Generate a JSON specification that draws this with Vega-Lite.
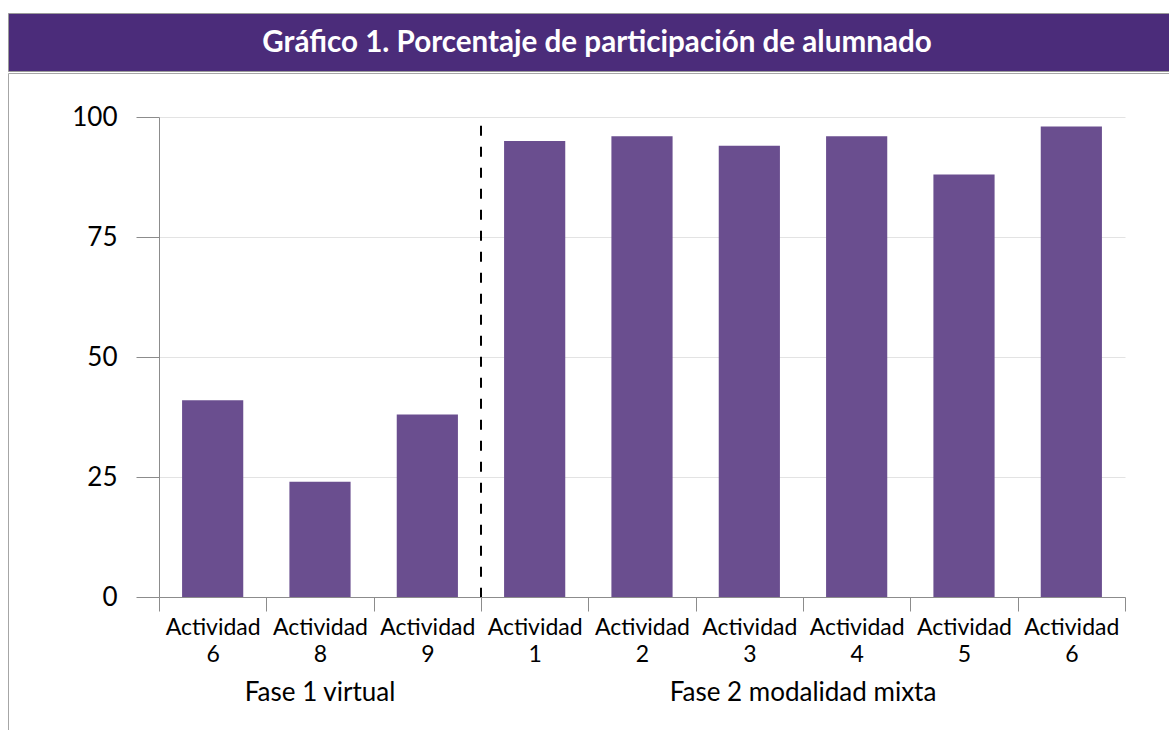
{
  "$schema": "https://vega.github.io/schema/vega-lite/v6.json",
  "padding": {"left": 7, "top": 12, "right": -9, "bottom": -9},
  "background": "white",
  "spacing": 0,
  "config": {"font": "Lato"},
  "vconcat": [
    {
      "width": 1170,
      "height": 58,
      "view": {"fill": "#4B2C7A", "stroke": "#9a9a9a"},
      "data": {"values": [{"titulo": "Gráfico 1. Porcentaje de participación de alumnado"}]},
      "mark": {"type": "text", "color": "white", "font": "Lato", "fontWeight": "bold", "fontSize": 29.6, "dx": 4, "dy": 1, "baseline": "middle", "align": "center"},
      "encoding": {"text": {"field": "titulo"}}
    },
    {
      "width": 1170,
      "height": 665,
      "view": {"stroke": "#a6a6a6"},
      "data": {
        "values": [
          {"clave": "1-6", "fase": "Fase 1 virtual", "actividad": "Actividad 6", "porcentaje": 41},
          {"clave": "1-8", "fase": "Fase 1 virtual", "actividad": "Actividad 8", "porcentaje": 24},
          {"clave": "1-9", "fase": "Fase 1 virtual", "actividad": "Actividad 9", "porcentaje": 38},
          {"clave": "2-1", "fase": "Fase 2 modalidad mixta", "actividad": "Actividad 1", "porcentaje": 95},
          {"clave": "2-2", "fase": "Fase 2 modalidad mixta", "actividad": "Actividad 2", "porcentaje": 96},
          {"clave": "2-3", "fase": "Fase 2 modalidad mixta", "actividad": "Actividad 3", "porcentaje": 94},
          {"clave": "2-4", "fase": "Fase 2 modalidad mixta", "actividad": "Actividad 4", "porcentaje": 96},
          {"clave": "2-5", "fase": "Fase 2 modalidad mixta", "actividad": "Actividad 5", "porcentaje": 88},
          {"clave": "2-6", "fase": "Fase 2 modalidad mixta", "actividad": "Actividad 6", "porcentaje": 98}
        ]
      },
      "layer": [
        {
          "layer": [
            {
              "mark": {"type": "bar", "color": "#6A4E8F", "width": {"band": 0.57}},
              "encoding": {
                "x": {
                  "field": "clave", "type": "nominal", "sort": null, "title": null,
                  "scale": {"type": "band", "range": [151, 1117], "paddingInner": 0, "paddingOuter": 0},
                  "axis": {
                    "offset": -141, "tickBand": "extent", "tickSize": 14, "labelPadding": 5,
                    "labelExpr": "indexof(datum.label, '-') >= 0 ? ['Actividad', split(datum.label, '-')[1]] : ''",
                    "labelFontSize": 23, "labelLineHeight": 27, "labelAngle": 0, "labelColor": "black",
                    "labelFont": "Lato", "labelOverlap": false, "labelBound": false,
                    "domainColor": "#8c8c8c", "tickColor": "#8c8c8c", "grid": false
                  }
                },
                "y": {
                  "field": "porcentaje", "type": "quantitative", "title": null,
                  "scale": {"domain": [0, 100], "range": [524, 44], "nice": false},
                  "axis": {
                    "offset": -151, "tickSize": 23, "labelPadding": 19, "values": [0, 25, 50, 75, 100],
                    "grid": true, "gridColor": "#e3e3e3", "domainColor": "#8c8c8c", "tickColor": "#8c8c8c",
                    "labelFontSize": 26, "labelColor": "black", "labelFont": "Lato"
                  }
                }
              }
            },
            {
              "transform": [{"filter": "datum.clave === '2-1'"}],
              "mark": {"type": "rule", "color": "black", "strokeWidth": 2, "strokeDash": [10, 11]},
              "encoding": {
                "x": {"field": "clave", "type": "nominal", "bandPosition": 0},
                "y": {"datum": 98.2, "type": "quantitative", "title": null},
                "y2": {"datum": 0}
              }
            }
          ]
        },
        {
          "data": {"values": [{"fase": "Fase 1 virtual"}, {"fase": "Fase 2 modalidad mixta"}]},
          "mark": {"type": "text", "fontSize": 26, "baseline": "middle", "align": "center", "color": "black", "font": "Lato"},
          "encoding": {
            "x": {"field": "fase", "type": "nominal", "scale": {"type": "point", "range": [312, 795], "padding": 0}, "axis": null},
            "y": {"datum": -20, "type": "quantitative", "title": null},
            "text": {"field": "fase"}
          }
        }
      ],
      "resolve": {"scale": {"x": "independent"}}
    }
  ]
}
